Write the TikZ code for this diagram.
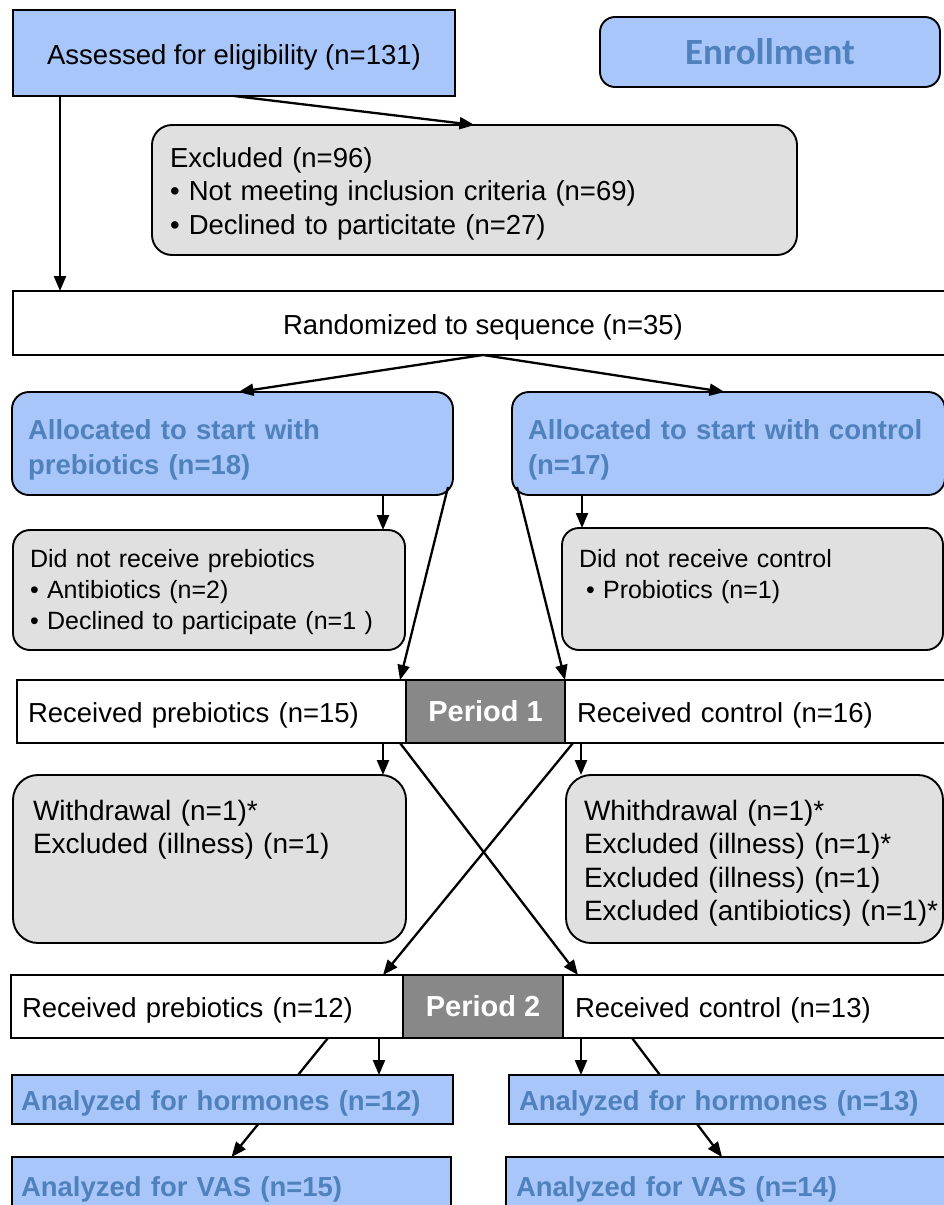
\documentclass[tikz,border=0pt]{standalone}
\usepackage{fontspec}
\setmainfont{Liberation Sans}
\newfontfamily\calibrifont{Carlito}
\usetikzlibrary{arrows.meta,backgrounds}

\definecolor{boxblue}{RGB}{168,198,250}
\definecolor{textblue}{RGB}{79,129,189}
\definecolor{boxgrey}{RGB}{224,224,224}
\definecolor{periodgrey}{RGB}{136,136,136}

\begin{document}
\begin{tikzpicture}[x=1pt,y=-1pt,
    box/.style={draw=black,line width=1.9pt,inner sep=0pt,outer sep=0pt,anchor=north west,
        font=\fontsize{27.5}{33.5}\selectfont},
    oneline/.style={text height=22pt,text depth=0pt},
    bluebox/.style={box,fill=boxblue},
    greybox/.style={box,fill=boxgrey,align=left},
    whitebox/.style={box,fill=white,align=left},
    periodbox/.style={box,fill=periodgrey,text=white,font=\fontsize{29}{33.5}\selectfont\bfseries},
    bluetext/.style={text=textblue,align=left,font=\fontsize{27.5}{35}\selectfont\bfseries},
    arr/.style={line width=2.3pt,-{Triangle[length=15pt,width=12pt]}}]
\useasboundingbox (0,0) rectangle (944,1205);
\clip (0,0) rectangle (944,1205);

\node[bluebox,oneline,minimum width=442,minimum height=86] (assess) at (13,10) {Assessed for eligibility (n=131)};
\node[bluebox,rounded corners=15pt,minimum width=340,minimum height=70,
    text=textblue,font=\calibrifont\fontsize{37}{40}\selectfont\bfseries] (enroll) at (600,17) {Enrollment};
\node[greybox,rounded corners=20pt,text width=609,inner xsep=18pt,text height=42,text depth=88] (excl) at (152,125)
    {Excluded (n=96)\\• Not meeting inclusion criteria (n=69)\\• Declined to particitate (n=27)};
\node[whitebox,oneline,align=center,minimum width=940,minimum height=64] (rand) at (13,291) {Randomized to sequence (n=35)};

\node[bluebox,bluetext,rounded corners=17pt,text width=409,inner xsep=16pt,text height=47,text depth=56] (allocL) at (12,392)
    {Allocated to start with\\prebiotics (n=18)};
\node[bluebox,bluetext,rounded corners=17pt,text width=401,inner xsep=16pt,text height=47,text depth=56] (allocR) at (512,392)
    {Allocated to start with control\\(n=17)};

\node[greybox,rounded corners=17pt,font=\fontsize{25}{31}\selectfont,text width=358,inner xsep=17pt,text height=37,text depth=83] (didL) at (13,530)
    {Did not receive prebiotics\\• Antibiotics (n=2)\\• Declined to participate (n=1 )};
\node[greybox,rounded corners=17pt,font=\fontsize{25}{31}\selectfont,text width=347,inner xsep=17pt,text height=39,text depth=83] (didR) at (562,528)
    {Did not receive control\\\hspace*{7pt}• Probiotics (n=1)};

% period 1
\node[whitebox,oneline,text width=367,inner xsep=11pt,minimum height=63] (p1L) at (17,680) {Received prebiotics (n=15)};
\node[periodbox,minimum width=159,minimum height=63] (per1) at (406,680) {Period 1};
\node[whitebox,oneline,text width=378,inner xsep=12pt,minimum height=63] (p1R) at (565,680) {Received control (n=16)};

\node[greybox,rounded corners=25pt,font=\fontsize{28}{33.5}\selectfont,text width=353,inner xsep=20pt,text height=45,text depth=123] (wdL) at (13,775)
    {Withdrawal (n=1)*\\Excluded (illness) (n=1)};
\node[greybox,rounded corners=25pt,font=\fontsize{28}{33.5}\selectfont,text width=341,inner xsep=18pt,text height=45,text depth=123] (wdR) at (566,775)
    {Whithdrawal (n=1)*\\Excluded (illness) (n=1)*\\Excluded (illness) (n=1)\\\mbox{Excluded (antibiotics) (n=1)*}};

% period 2
\node[whitebox,oneline,text width=370,inner xsep=11pt,minimum height=63] (p2L) at (11,975) {Received prebiotics (n=12)};
\node[periodbox,minimum width=160,minimum height=63] (per2) at (403,975) {Period 2};
\node[whitebox,oneline,text width=380,inner xsep=12pt,minimum height=63] (p2R) at (563,975) {Received control (n=13)};

\node[bluebox,bluetext,oneline,text width=423,inner xsep=9pt,minimum height=49] (hormL) at (12,1075) {Analyzed for hormones (n=12)};
\node[bluebox,bluetext,oneline,text width=440,inner xsep=10pt,minimum height=49] (hormR) at (509,1075) {Analyzed for hormones (n=13)};
\node[bluebox,bluetext,oneline,text width=421,inner xsep=9pt,minimum height=56] (vasL) at (12,1157) {Analyzed for VAS (n=15)};
\node[bluebox,bluetext,oneline,text width=440,inner xsep=10pt,minimum height=56] (vasR) at (506,1157) {Analyzed for VAS (n=14)};

\coordinate (dL) at ([xshift=-22pt]didL.north east);
\coordinate (dR) at ([xshift=20pt]didR.north west);
\coordinate (wL) at ([xshift=-23pt]wdL.north east);
\coordinate (wR) at ([xshift=15pt]wdR.north west);
\coordinate (hL) at ([xshift=-24pt]p2L.south east);
\coordinate (hR) at ([xshift=18pt]p2R.south west);

\draw[arr] (assess.south) -- (excl.north);
\draw[arr] ([xshift=47pt]assess.south west) -- ([xshift=47pt]rand.north west);
\draw[arr] (rand.south) -- ([xshift=6pt]allocL.north);
\draw[arr] (rand.south) -- ([xshift=-4pt]allocR.north);
\draw[arr] (dL |- allocL.south) -- (dL);
\draw[arr] (dR |- allocR.south) -- (dR);
\draw[arr] ([xshift=-5pt,yshift=8pt]allocL.south east) -- ([xshift=-6pt]p1L.north east);
\draw[arr] ([xshift=5pt,yshift=8pt]allocR.south west) -- (p1R.north west);
\draw[arr] (wL |- p1L.south) -- (wL);
\draw[arr] (wR |- p1R.south) -- (wR);
\draw[arr] ([xshift=-6pt]p1L.south east) -- ([xshift=15pt]p2R.north west);
\draw[arr] ([xshift=8pt]p1R.south west) -- ([xshift=-20pt]p2L.north east);
\draw[arr] (hL) -- (hL |- hormL.north);
\draw[arr] (hR) -- (hR |- hormR.north);
\begin{pgfonlayer}{background}
\draw[arr] ([xshift=-75pt]p2L.south east) -- (vasL.north);
\draw[arr] ([xshift=69pt]p2R.south west) -- ([xshift=-14pt]vasR.north);
\end{pgfonlayer}
\end{tikzpicture}
\end{document}
